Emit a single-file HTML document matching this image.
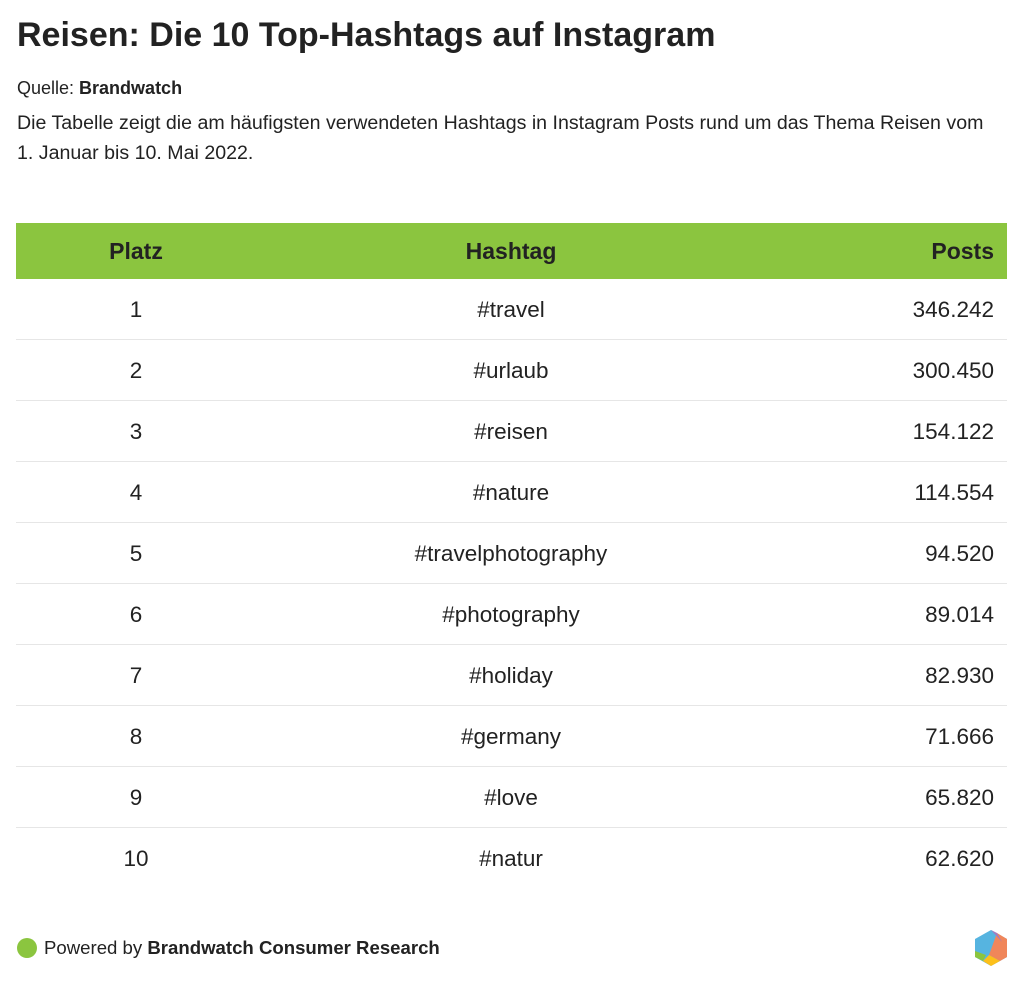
<!DOCTYPE html>
<html><head><meta charset="utf-8"><style>
body{margin:0;background:#fff;font-family:"Liberation Sans",sans-serif;color:#222;width:1024px;height:988px;position:relative;overflow:hidden}
.t{position:absolute;left:17px;top:16px;font-size:34px;font-weight:bold;letter-spacing:0;color:#222}
.q{position:absolute;left:17px;top:78px;font-size:18px}
.d{position:absolute;left:17px;top:108px;font-size:19.6px;line-height:30px;width:1000px;white-space:nowrap}
table{position:absolute;left:16px;top:223px;width:991px;border-collapse:collapse;font-size:22.5px}
th{background:#8bc53f;height:56px;font-size:23px;font-weight:bold;padding:0}
td{height:58px;border-bottom:1px solid #e6e6e6;padding:0;padding-top:2px}
tr:last-child td{border-bottom:none}
.c1{width:240px;text-align:center}
.c2{text-align:center}
.c3{width:228px;text-align:right;padding-right:13px}
.f{position:absolute;left:17px;top:937px;font-size:18.6px;display:flex;align-items:center}
.dot{width:20px;height:20px;border-radius:50%;background:#8bc53f;margin-right:7px}
</style></head><body>
<div class="t">Reisen: Die 10 Top-Hashtags auf Instagram</div>
<div class="q">Quelle: <b>Brandwatch</b></div>
<div class="d">Die Tabelle zeigt die am häufigsten verwendeten Hashtags in Instagram Posts rund um das Thema Reisen vom<br>1. Januar bis 10. Mai 2022.</div>
<table>
<tr><th class="c1">Platz</th><th class="c2">Hashtag</th><th class="c3">Posts</th></tr>
<tr><td class="c1">1</td><td class="c2">#travel</td><td class="c3">346.242</td></tr>
<tr><td class="c1">2</td><td class="c2">#urlaub</td><td class="c3">300.450</td></tr>
<tr><td class="c1">3</td><td class="c2">#reisen</td><td class="c3">154.122</td></tr>
<tr><td class="c1">4</td><td class="c2">#nature</td><td class="c3">114.554</td></tr>
<tr><td class="c1">5</td><td class="c2">#travelphotography</td><td class="c3">94.520</td></tr>
<tr><td class="c1">6</td><td class="c2">#photography</td><td class="c3">89.014</td></tr>
<tr><td class="c1">7</td><td class="c2">#holiday</td><td class="c3">82.930</td></tr>
<tr><td class="c1">8</td><td class="c2">#germany</td><td class="c3">71.666</td></tr>
<tr><td class="c1">9</td><td class="c2">#love</td><td class="c3">65.820</td></tr>
<tr><td class="c1">10</td><td class="c2">#natur</td><td class="c3">62.620</td></tr>
</table>
<div class="f"><span class="dot"></span>Powered by&nbsp;<b>Brandwatch Consumer Research</b></div>
<svg style="position:absolute;left:974px;top:929px" width="34" height="38" viewBox="0 0 34 38">
<polygon points="17,1 33,10 33,28 17,37 1,28 1,10" fill="#56b4e0"/>
<polygon points="23,4 33,10 33,28 26,32 15,26" fill="#f0865a"/>
<polygon points="17,37 26,32 15,26 9,32" fill="#fdc01a"/>
<polygon points="1,22 1,28 9,32 12,26" fill="#8bc53f"/>
<polygon points="17,1 23,4 28,13" fill="#a07cc0"/>
</svg>
</body></html>
